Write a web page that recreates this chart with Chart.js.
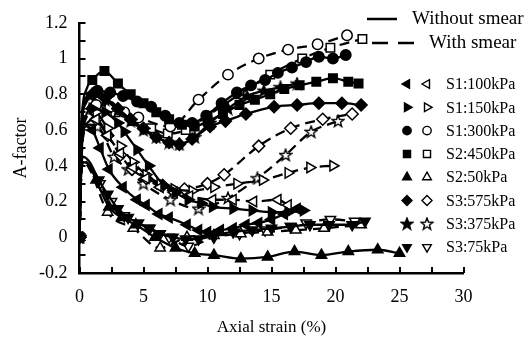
<!DOCTYPE html>
<html>
<head>
<meta charset="utf-8">
<script src="https://cdn.jsdelivr.net/npm/chart.js@4.4.0/dist/chart.umd.min.js"></script>
<style>
  html, body { margin: 0; padding: 0; background: #fff; }
  #wrap { width: 532px; height: 338px; }
</style>
</head>
<body>
<div id="wrap"><canvas id="chart" width="532" height="338"></canvas></div>
<script>
// --- Data (axial strain %, A-factor) ---
const seriesNames = ['S1:100kPa', 'S1:150kPa', 'S1:300kPa', 'S2:450kPa', 'S2:50kPa', 'S3:575kPa', 'S3:375kPa', 'S3:75kPa'];

// without smear (solid)
const s1_100_x = [0, 0.15, 0.5, 1, 1.6, 2.3, 3.4, 4.5, 5.2, 6.2, 7, 8.4, 9.3, 10, 11, 12, 13, 14, 15, 16, 17];
const s1_100_y = [0, 0.45, 0.62, 0.6, 0.5, 0.38, 0.28, 0.21, 0.18, 0.13, 0.11, 0.07, 0.04, 0.03, 0.04, 0.05, 0.07, 0.08, 0.1, 0.13, 0.16];
const s1_150_x = [0, 0.15, 0.5, 1, 2, 3, 3.5, 4.5, 5.4, 6.6, 7.5, 8.5, 9.5, 10.4, 12, 13.5, 15, 16.3, 17.5];
const s1_150_y = [0, 0.5, 0.68, 0.72, 0.7, 0.64, 0.59, 0.49, 0.4, 0.29, 0.25, 0.21, 0.19, 0.17, 0.16, 0.15, 0.14, 0.14, 0.15];
const s1_300_x = [0, 0.15, 0.5, 1.4, 2.4, 3.4, 4.5, 5.6, 6.7, 7.8, 8.8, 9.9, 11.1, 12.3, 13.4, 14.5, 15.5, 16.6, 17.7, 18.7, 19.8, 20.8];
const s1_300_y = [0, 0.62, 0.78, 0.82, 0.81, 0.79, 0.76, 0.73, 0.68, 0.64, 0.64, 0.68, 0.75, 0.81, 0.85, 0.88, 0.92, 0.95, 0.98, 1.01, 1.0, 1.02];
const s2_450_x = [0, 0.15, 0.5, 1, 1.95, 3, 4, 5, 6, 7, 8, 9, 10, 11.2, 12.5, 13.7, 14.9, 16, 17.2, 18.5, 19.8, 21, 21.8];
const s2_450_y = [0, 0.62, 0.82, 0.88, 0.93, 0.86, 0.8, 0.75, 0.7, 0.66, 0.63, 0.62, 0.65, 0.69, 0.74, 0.77, 0.8, 0.83, 0.85, 0.87, 0.89, 0.87, 0.86];
const s2_50_x = [0, 0.1, 0.3, 0.8, 1.3, 2.3, 3.3, 4.4, 5.9, 7.5, 9, 10.5, 12.6, 14.7, 16.8, 18.9, 21, 23.3, 25];
const s2_50_y = [0, 0.3, 0.42, 0.4, 0.32, 0.17, 0.11, 0.07, 0.0, -0.06, -0.09, -0.1, -0.12, -0.11, -0.08, -0.1, -0.08, -0.07, -0.09];
const s3_575_x = [0, 0.15, 0.5, 1, 2, 3, 4, 5, 6, 7, 7.8, 8.8, 10.2, 11.4, 13, 15.2, 17, 18.7, 20.5, 22];
const s3_575_y = [0, 0.6, 0.75, 0.8, 0.78, 0.72, 0.66, 0.61, 0.56, 0.53, 0.52, 0.55, 0.62, 0.65, 0.69, 0.73, 0.74, 0.75, 0.75, 0.74];
const s3_375_x = [0, 0.15, 0.5, 1, 2, 3, 4, 5, 6, 7, 7.8, 9, 10.2, 11.6, 13.1, 14.4, 15.7, 17];
const s3_375_y = [0, 0.62, 0.76, 0.8, 0.77, 0.71, 0.65, 0.6, 0.56, 0.53, 0.52, 0.56, 0.64, 0.72, 0.79, 0.82, 0.84, 0.86];
const s3_75_x = [0, 0.1, 0.3, 0.8, 1.5, 2.2, 3, 3.8, 4.6, 5.4, 6.3, 7.3, 8.3, 9.3, 10.5, 12, 13.5, 15, 16.5, 18, 19.5, 21.3, 22.3];
const s3_75_y = [0, 0.35, 0.45, 0.42, 0.32, 0.24, 0.16, 0.11, 0.08, 0.05, 0.02, 0.0, -0.01, -0.01, 0.01, 0.03, 0.04, 0.05, 0.06, 0.07, 0.07, 0.07, 0.09];

// with smear (dashed)
const s1_100s_x = [0, 0.2, 0.6, 1.3, 2.2, 3.2, 4.2, 5.2, 6.3, 7.4, 8.6, 10.4, 12, 13.6, 15.5, 16.3];
const s1_100s_y = [0, 0.55, 0.7, 0.66, 0.57, 0.47, 0.39, 0.33, 0.28, 0.25, 0.23, 0.21, 0.21, 0.2, 0.21, 0.18];
const s1_150s_x = [0, 0.2, 0.6, 1.3, 2.2, 3.2, 4.2, 5.2, 6.3, 7.4, 8.8, 10.5, 12.3, 14.3, 16.3, 18, 19.8];
const s1_150s_y = [0, 0.55, 0.72, 0.7, 0.61, 0.51, 0.42, 0.35, 0.3, 0.27, 0.26, 0.28, 0.3, 0.32, 0.36, 0.39, 0.4];
const s1_300s_x = [0, 0.2, 0.6, 1.3, 2.4, 3.5, 4.6, 7.1, 9.3, 11.6, 14, 16.3, 18.6, 20.9];
const s1_300s_y = [0, 0.5, 0.68, 0.74, 0.73, 0.7, 0.67, 0.62, 0.77, 0.91, 1.0, 1.05, 1.08, 1.13];
const s2_450s_x = [0, 0.2, 0.6, 1.5, 2.8, 4.2, 5.6, 6.9, 8.3, 10, 12.5, 14.9, 17.4, 19.6, 22.1];
const s2_450s_y = [0, 0.55, 0.72, 0.76, 0.7, 0.65, 0.61, 0.58, 0.6, 0.68, 0.8, 0.91, 1.0, 1.06, 1.11];
const s2_50s_x = [0, 0.1, 0.3, 0.8, 2.2, 4.2, 6.3, 8.4, 10.5, 12.6, 14.7, 16.9, 19.1, 22];
const s2_50s_y = [0, 0.3, 0.42, 0.38, 0.14, 0.05, -0.06, 0.0, 0.01, 0.02, 0.03, 0.04, 0.05, 0.07];
const s3_575s_x = [0, 0.2, 0.6, 1.3, 2.2, 3.2, 4.1, 5.2, 6.5, 8.2, 10, 11.3, 14, 16.5, 19, 21.3];
const s3_575s_y = [0, 0.5, 0.64, 0.66, 0.57, 0.46, 0.38, 0.33, 0.29, 0.27, 0.3, 0.35, 0.51, 0.61, 0.66, 0.69];
const s3_375s_x = [0, 0.2, 0.6, 1.4, 2.7, 3.8, 5, 7.1, 9.3, 11.6, 13.9, 16.1, 18.1, 20.2];
const s3_375s_y = [0, 0.5, 0.63, 0.62, 0.45, 0.38, 0.3, 0.21, 0.16, 0.22, 0.33, 0.46, 0.59, 0.65];
const s3_75s_x = [0, 0.1, 0.3, 0.8, 1.6, 2.5, 3.5, 5.5, 7, 8.5, 10.5, 12.5, 14.5, 16.5, 17.7, 19.6, 21.5];
const s3_75s_y = [0, 0.3, 0.43, 0.4, 0.3, 0.2, 0.12, 0.05, 0.0, -0.05, 0.0, 0.02, 0.04, 0.06, 0.08, 0.1, 0.09];

// --- five point star markers (Chart.js 'star' is an asterisk) ---
function makeStar(filled) {
    const c = document.createElement('canvas');
    c.width = 14; c.height = 14;
    const g = c.getContext('2d');
    const R = 6.2, r = 2.6, cx = 7, cy = 7.4;
    g.beginPath();
    for (let i = 0; i < 10; i++) {
        const a = -Math.PI / 2 + i * Math.PI / 5;
        const rr = i % 2 ? r : R;
        g.lineTo(cx + rr * Math.cos(a), cy + rr * Math.sin(a));
    }
    g.closePath();
    g.fillStyle = filled ? '#000' : '#fff';
    g.fill();
    g.strokeStyle = '#000';
    g.lineWidth = 1.4;
    g.stroke();
    return c;
}
const starFilled = makeStar(true);
const starOpen = makeStar(false);

// marker style per series: [pointStyle, rotation, radius]
const markers = [
    ['triangle', 270, 6],
    ['triangle', 90, 6],
    ['circle', 0, 5.2],
    ['rect', 0, 6],
    ['triangle', 0, 6],
    ['rectRot', 0, 6],
    [null, 0, 5],
    ['triangle', 180, 6]
];

function makeSet(xs, ys, idx, filled) {
    const m = markers[idx];
    const style = m[0] || (filled ? starFilled : starOpen);
    return {
        label: seriesNames[idx],
        data: xs.map((x, i) => ({ x: x, y: ys[i] })),
        showLine: true,
        borderColor: '#000',
        borderWidth: 2.3,
        borderDash: filled ? [] : [10, 6],
        pointStyle: style,
        pointRotation: m[1],
        pointRadius: c => (c.raw && c.raw.x > 0 && c.raw.x < 1) ? 0 : m[2],
        pointBackgroundColor: filled ? '#000' : '#fff',
        pointBorderColor: '#000',
        pointBorderWidth: 1.5,
        cubicInterpolationMode: 'monotone',
        tension: 0.4
    };
}

const solidX = [s1_100_x, s1_150_x, s1_300_x, s2_450_x, s2_50_x, s3_575_x, s3_375_x, s3_75_x];
const solidY = [s1_100_y, s1_150_y, s1_300_y, s2_450_y, s2_50_y, s3_575_y, s3_375_y, s3_75_y];
const smearX = [s1_100s_x, s1_150s_x, s1_300s_x, s2_450s_x, s2_50s_x, s3_575s_x, s3_375s_x, s3_75s_x];
const smearY = [s1_100s_y, s1_150s_y, s1_300s_y, s2_450s_y, s2_50s_y, s3_575s_y, s3_375s_y, s3_75s_y];

const datasets = [];
// first datasets are drawn on top, so the solid ones go first
solidX.forEach((xs, i) => datasets.push(makeSet(xs, solidY[i], i, true)));
smearX.forEach((xs, i) => datasets.push(makeSet(xs, smearY[i], i, false)));

// --- inward tick marks ---
const innerTicks = {
    id: 'innerTicks',
    afterDraw(chart) {
        const { ctx, scales: { x, y } } = chart;
        ctx.save();
        ctx.strokeStyle = '#000';
        ctx.lineWidth = 2;
        ctx.beginPath();
        for (let v = -2; v <= 12; v++) {
            const py = Math.round(y.getPixelForValue(v / 10));
            ctx.moveTo(x.left, py);
            ctx.lineTo(x.left + 6, py);
        }
        for (let v = 0; v <= 12; v++) {
            const px = Math.round(x.getPixelForValue(v * 2.5));
            ctx.moveTo(px, y.bottom);
            ctx.lineTo(px, y.bottom - 6);
        }
        ctx.stroke();
        ctx.restore();
    }
};

// --- legend (line types on top, marker pairs below) ---
const smearLegend = {
    id: 'smearLegend',
    afterDraw(chart) {
        const ctx = chart.ctx;
        ctx.save();
        ctx.strokeStyle = '#000';
        ctx.lineWidth = 2.5;
        ctx.beginPath();
        ctx.moveTo(367, 19);
        ctx.lineTo(397, 19);
        ctx.stroke();
        ctx.setLineDash([16, 10]);
        ctx.beginPath();
        ctx.moveTo(372, 43);
        ctx.lineTo(415, 43);
        ctx.stroke();
        ctx.setLineDash([]);

        ctx.fillStyle = '#000';
        ctx.textBaseline = 'middle';
        ctx.font = '19px "Liberation Serif"';
        ctx.fillText('Without smear', 412, 19);
        ctx.fillText('With smear', 429, 43);

        ctx.font = '16px "Liberation Serif"';
        seriesNames.forEach((name, i) => {
            const yy = 84 + i * 23.3;
            const m = markers[i];
            [true, false].forEach((filled, k) => {
                const xx = k === 0 ? 407 : 427;
                ctx.fillStyle = filled ? '#000' : '#fff';
                ctx.strokeStyle = '#000';
                ctx.lineWidth = 1.4;
                Chart.helpers.drawPoint(ctx, {
                    pointStyle: m[0] || (filled ? starFilled : starOpen),
                    rotation: m[1],
                    radius: m[2] - 1,
                    borderWidth: 1.4
                }, xx, yy);
            });
            ctx.fillStyle = '#000';
            ctx.fillText(name, 446, yy + 1);
        });
        ctx.restore();
    }
};

Chart.defaults.font.family = '"Liberation Serif", "Times New Roman", serif';
Chart.defaults.color = '#000';

new Chart(document.getElementById('chart'), {
    type: 'scatter',
    data: { datasets: datasets },
    options: {
        responsive: false,
        animation: false,
        events: [],
        layout: { padding: { left: 0, right: 68.5, top: 16, bottom: 0 } },
        plugins: { legend: { display: false }, tooltip: { enabled: false } },
        scales: {
            x: {
                type: 'linear',
                min: 0, max: 30,
                afterFit: s => { s.height = 65; },
                ticks: { stepSize: 5, padding: 13, font: { size: 18 }, color: '#000', maxRotation: 0 },
                grid: { display: false, drawTicks: false },
                border: { display: true, color: '#000', width: 2.5 },
                title: { display: true, text: 'Axial strain (%)', font: { size: 17 }, color: '#000', padding: { top: 0, bottom: 0 } }
            },
            y: {
                type: 'linear',
                min: -0.2, max: 1.2,
                afterFit: s => { s.width = 79.5; },
                ticks: {
                    stepSize: 0.2, padding: 12, font: { size: 18 }, color: '#000',
                    callback: v => String(+(+v).toFixed(1) || 0)
                },
                grid: { display: false, drawTicks: false },
                border: { display: true, color: '#000', width: 2.5 },
                title: { display: true, text: 'A-factor', font: { size: 18 }, color: '#000', padding: { top: 10, bottom: 0 } }
            }
        }
    },
    plugins: [innerTicks, smearLegend]
});
</script>
</body>
</html>
